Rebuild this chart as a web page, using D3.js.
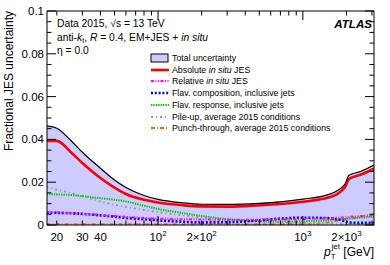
<!DOCTYPE html>
<head>
	<script src="https://d3js.org/d3.v7.min.js"></script>
	<style>
		body { margin: 0; background: #fff; }
		text { font-family: "Liberation Sans", Arial, sans-serif; fill: #000; }
		.tick-label { font-size: 11.5px; }
		.legend { font-size: 8.8px; }
		.info { font-size: 10.3px; }
	</style>
</head>
<body>
	<script>
		// pT grid shared by all curves
		var ptBins   = [17, 20, 25, 30, 40, 50, 60, 80, 100, 150, 200, 300, 500, 700, 1000, 1500, 1950, 2080, 2500, 3100];
		var total    = [0.0463, 0.0452, 0.0395, 0.034, 0.0265, 0.021, 0.0175, 0.0138, 0.012, 0.0103, 0.0097, 0.0096, 0.0101, 0.0108, 0.0121, 0.0142, 0.019, 0.0232, 0.025, 0.028];
		var absolute = [0.0393, 0.0393, 0.034, 0.029, 0.022, 0.0175, 0.0145, 0.0118, 0.0105, 0.0092, 0.0087, 0.0086, 0.0092, 0.0098, 0.0109, 0.0128, 0.0175, 0.0215, 0.0235, 0.0263];
		var relative = [0.006, 0.0058, 0.0055, 0.0052, 0.0047, 0.0042, 0.0038, 0.0033, 0.003, 0.0027, 0.0026, 0.0024, 0.0025, 0.0026, 0.0028, 0.0032, 0.0036, 0.0038, 0.0041, 0.0045];
		var flavComp = [0.0058, 0.0057, 0.0055, 0.0052, 0.0045, 0.0039, 0.0033, 0.0027, 0.0022, 0.0015, 0.0012, 0.0013, 0.0022, 0.003, 0.0034, 0.0032, 0.0018, 0.0012, 0.001, 0.001];
		var flavResp = [0.0145, 0.0143, 0.014, 0.0135, 0.0125, 0.0118, 0.011, 0.009, 0.0075, 0.0055, 0.0042, 0.0028, 0.0018, 0.0016, 0.0017, 0.0022, 0.0029, 0.003, 0.0034, 0.0038];
		var pileup   = [0.018, 0.0165, 0.015, 0.0135, 0.011, 0.0095, 0.0085, 0.007, 0.006, 0.0045, 0.0035, 0.0025, 0.0015, 0.0012, 0.0009, 0.0007, 0.0006, 0.0006, 0.0005, 0.0005];
		var punch    = [0.0003, 0.0003, 0.0003, 0.0003, 0.0003, 0.0003, 0.0003, 0.0003, 0.0003, 0.0003, 0.0003, 0.0003, 0.0003, 0.0003, 0.0003, 0.0012, 0.0027, 0.003, 0.004, 0.005];

		var yTicks = [0, 0.02, 0.04, 0.06, 0.08, 0.1];
		var yTickLabels = ["0", "0.02", "0.04", "0.06", "0.08", "0.1"];
		var xLabelTicks = [20, 30, 40, 100, 200, 1000, 2000];
		var xTickLabels = [["20"], ["30"], ["40"], ["10", "2"], ["2\u00d710", "2"], ["10", "3"], ["2\u00d710", "3"]];

		var series = [
			{ name: ["Absolute ", "in situ", " JES"], values: absolute, color: "#ff0000", width: 2.6, dash: null },
			{ name: ["Relative ", "in situ", " JES"], values: relative, color: "#ff00ff", width: 2, dash: "3,1.5,1,1.5,1,1.5" },
			{ name: ["Flav. composition, inclusive jets"], values: flavComp, color: "#0000ff", width: 2.6, dash: "2,1.8" },
			{ name: ["Flav. response, inclusive jets"], values: flavResp, color: "#00cc00", width: 2, dash: "1.4,1" },
			{ name: ["Pile-up, average 2015 conditions"], values: pileup, color: "#999999", width: 2, dash: "2,3,1,3" },
			{ name: ["Punch-through, average 2015 conditions"], values: punch, color: "#ff6600", width: 2, dash: "4,2,1,2" }
		];

		var W = 390, H = 265;
		var m = { left: 47, right: 374, top: 11, bottom: 225 };

		var x = d3.scaleLog().domain([17.1, 3100]).range([m.left, m.right]);
		var y = d3.scaleLinear().domain([0, 0.1]).range([m.bottom, m.top]);

		var svg = d3.select("body").append("svg")
			.attr("width", W)
			.attr("height", H);

		svg.append("clipPath").attr("id", "clip")
			.append("rect").attr("x", m.left).attr("y", m.top)
			.attr("width", m.right - m.left).attr("height", m.bottom - m.top);

		var plot = svg.append("g").attr("clip-path", "url(#clip)");

		// total band
		var area = d3.area()
			.x((d, i) => x(ptBins[i]))
			.y0(y(0))
			.y1(d => y(d))
			.curve(d3.curveMonotoneX);
		plot.append("path").datum(total)
			.attr("d", area)
			.attr("fill", "#ccccff");

		var line = d3.line()
			.x((d, i) => x(ptBins[i]))
			.y(d => y(d))
			.curve(d3.curveMonotoneX);

		// components, drawn from the last one so the red line is on top
		series.slice().reverse().forEach(function(s) {
			plot.append("path").datum(s.values)
				.attr("d", line)
				.attr("fill", "none")
				.attr("stroke", s.color)
				.attr("stroke-width", s.width)
				.attr("stroke-dasharray", s.dash);
		});

		plot.append("path").datum(total)
			.attr("d", line)
			.attr("fill", "none")
			.attr("stroke", "#000")
			.attr("stroke-width", 1.2);

		// frame
		svg.append("rect")
			.attr("x", m.left).attr("y", m.top)
			.attr("width", m.right - m.left).attr("height", m.bottom - m.top)
			.attr("fill", "none").attr("stroke", "#000").attr("stroke-width", 1);

		// y ticks, inside, both sides
		var yMinor = d3.range(0, 0.1001, 0.005);
		var axes = svg.append("g").attr("stroke", "#000").attr("stroke-width", 1);
		yMinor.forEach(function(v, i) {
			var len = (i % 4 === 0) ? 9 : 4.5;
			axes.append("line").attr("x1", m.left).attr("x2", m.left + len).attr("y1", y(v)).attr("y2", y(v));
			axes.append("line").attr("x1", m.right).attr("x2", m.right - len).attr("y1", y(v)).attr("y2", y(v));
		});

		// x ticks (log)
		var xAll = [];
		[10, 100, 1000].forEach(function(dec) {
			for (var k = 1; k < 10; k++) {
				var v = dec * k;
				if (v >= 17.1 && v <= 3100) xAll.push(v);
			}
		});
		xAll.forEach(function(v) {
			var major = (v === 100 || v === 1000);
			var len = major ? 9 : 4.5;
			axes.append("line").attr("x1", x(v)).attr("x2", x(v)).attr("y1", m.bottom).attr("y2", m.bottom - len);
			axes.append("line").attr("x1", x(v)).attr("x2", x(v)).attr("y1", m.top).attr("y2", m.top + len);
		});

		// y tick labels
		yTicks.forEach(function(v, i) {
			svg.append("text").attr("class", "tick-label")
				.attr("x", m.left - 3).attr("y", y(v) + 4)
				.attr("text-anchor", "end")
				.text(yTickLabels[i]);
		});

		// x tick labels
		xLabelTicks.forEach(function(v, i) {
			var lab = xTickLabels[i];
			var t = svg.append("text").attr("class", "tick-label")
				.attr("x", x(v)).attr("y", m.bottom + 16)
				.attr("text-anchor", "middle");
			t.append("tspan").text(lab[0]);
			if (lab[1]) t.append("tspan").attr("dy", -5).attr("font-size", "8px").text(lab[1]);
		});

		// axis titles
		svg.append("text")
			.attr("transform", "translate(13," + m.top + ") rotate(-90)")
			.attr("text-anchor", "end")
			.attr("font-size", "12px")
			.text("Fractional JES uncertainty");

		var xt = svg.append("text")
			.attr("x", m.right).attr("y", 256)
			.attr("text-anchor", "end")
			.attr("font-size", "12px");
		xt.append("tspan").attr("font-style", "italic").text("p");
		xt.append("tspan").attr("font-size", "8px").attr("dy", 3).text("T");
		xt.append("tspan").attr("font-size", "8px").attr("dx", -4).attr("dy", -10).text("jet");
		xt.append("tspan").attr("dy", 7).text(" [GeV]");

		// labels
		var info = svg.append("g").attr("class", "info");
		var t1 = info.append("text").attr("x", 57).attr("y", 27);
		t1.append("tspan").text("Data 2015, \u221as = 13 TeV");
		var t2 = info.append("text").attr("x", 57).attr("y", 41);
		t2.append("tspan").text("anti-");
		t2.append("tspan").attr("font-style", "italic").text("k");
		t2.append("tspan").attr("font-size", "7px").attr("dy", 2).text("t");
		t2.append("tspan").attr("dy", -2).text(", ");
		t2.append("tspan").attr("font-style", "italic").text("R");
		t2.append("tspan").text(" = 0.4, EM+JES + ");
		t2.append("tspan").attr("font-style", "italic").text("in situ");
		info.append("text").attr("x", 57).attr("y", 54).text("\u03b7 = 0.0");

		svg.append("text")
			.attr("x", 372).attr("y", 28)
			.attr("text-anchor", "end")
			.attr("font-size", "11.6px")
			.attr("font-weight", "bold")
			.attr("font-style", "italic")
			.text("ATLAS");

		// legend
		var lx = 151, ly = 58, step = 11.7;
		var lg = svg.append("g").attr("class", "legend");
		lg.append("rect").attr("x", lx).attr("y", ly - 4).attr("width", 17).attr("height", 8)
			.attr("fill", "#ccccff").attr("stroke", "#000").attr("stroke-width", 1);
		lg.append("text").attr("x", lx + 21).attr("y", ly + 3).text("Total uncertainty");
		series.forEach(function(s, i) {
			var yy = Math.round(ly + step * (i + 1));
			lg.append("line").attr("x1", lx).attr("x2", lx + 18).attr("y1", yy).attr("y2", yy)
				.attr("stroke", s.color).attr("stroke-width", s.width).attr("stroke-dasharray", s.dash);
			var t = lg.append("text").attr("x", lx + 21).attr("y", yy + 3);
			s.name.forEach(function(part, j) {
				t.append("tspan").attr("font-style", j === 1 ? "italic" : null).text(part);
			});
		});
	</script>
</body>
</html>
